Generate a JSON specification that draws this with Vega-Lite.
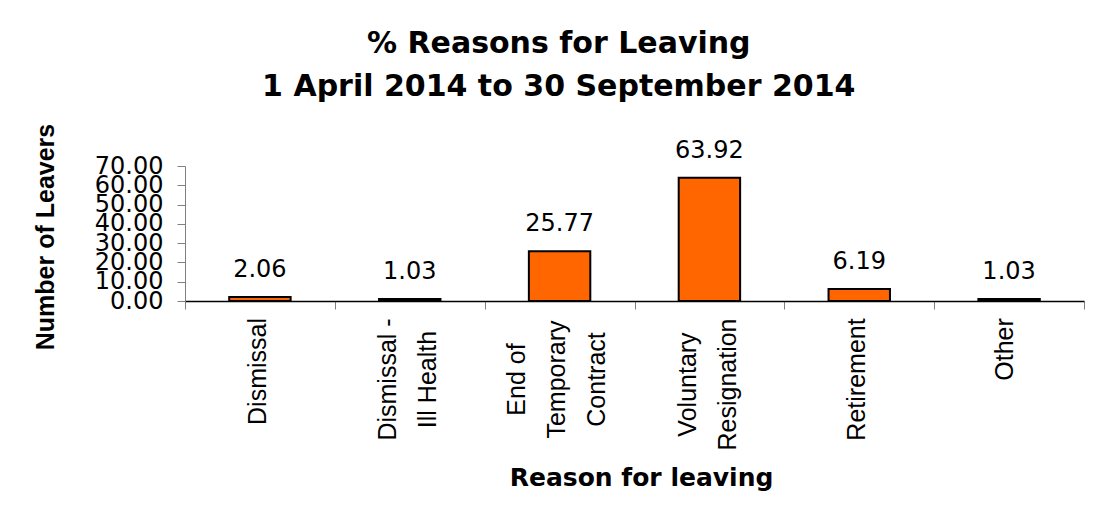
{
  "$schema": "https://vega.github.io/schema/vega-lite/v6.json",
  "autosize": {"type": "none"},
  "padding": {"left": 185, "top": 166, "right": 13, "bottom": 216},
  "width": 899,
  "height": 135,
  "background": "white",
  "title": {
    "text": ["% Reasons for Leaving", "1 April 2014 to  30 September 2014"],
    "font": "DejaVu Sans",
    "fontSize": 30,
    "fontWeight": "bold",
    "color": "#000",
    "lineHeight": 43,
    "anchor": "middle",
    "frame": "bounds",
    "baseline": "alphabetic",
    "offset": -3
  },
  "data": {
    "values": [
      {"reason": "Dismissal", "value": 2.06},
      {"reason": "Dismissal - Ill Health", "value": 1.03},
      {"reason": "End of Temporary Contract", "value": 25.77},
      {"reason": "Voluntary Resignation", "value": 63.92},
      {"reason": "Retirement", "value": 6.19},
      {"reason": "Other", "value": 1.03}
    ]
  },
  "encoding": {
    "x": {
      "field": "reason",
      "type": "nominal",
      "sort": null,
      "scale": {"paddingInner": 0, "paddingOuter": 0},
      "axis": {
        "title": "Reason for leaving",
        "titleFont": "DejaVu Sans",
        "titleFontSize": 25,
        "titleFontWeight": "bold",
        "titleColor": "#000",
        "titleBaseline": "alphabetic",
        "titleX": 456,
        "titleY": 184,
        "labelAngle": -90,
        "labelAlign": "center",
        "labelBaseline": "middle",
        "labelFont": "Liberation Sans",
        "labelFontSize": 25,
        "labelColor": "#000",
        "labelLineHeight": 40,
        "labelLimit": 400,
        "labelOverlap": false,
        "labelExpr": "datum.value == 'Dismissal - Ill Health' ? ['Dismissal -', 'Ill Health'] : datum.value == 'End of Temporary Contract' ? ['End of', 'Temporary', 'Contract'] : datum.value == 'Voluntary Resignation' ? ['Voluntary', 'Resignation'] : datum.value",
        "labelPadding": {
          "condition": [
            {"test": "datum.value == 'Other'", "value": 40},
            {"test": "datum.value == 'Dismissal'", "value": 62},
            {"test": "datum.value == 'Voluntary Resignation'", "value": 75}
          ],
          "value": 70
        },
        "labelOffset": {
          "condition": [
            {"test": "datum.value == 'Dismissal - Ill Health'", "value": -22},
            {"test": "datum.value == 'End of Temporary Contract'", "value": -43},
            {"test": "datum.value == 'Voluntary Resignation'", "value": -22},
            {"test": "datum.value == 'Dismissal'", "value": -2},
            {"test": "datum.value == 'Other'", "value": -5},
            {"test": "datum.value == 'Retirement'", "value": -3}
          ],
          "value": 0
        },
        "tickBand": "extent",
        "tickSize": 8,
        "tickColor": "#808080",
        "domainColor": "#000",
        "domainWidth": 1.5
      }
    },
    "y": {
      "field": "value",
      "type": "quantitative",
      "scale": {"domain": [0, 70]},
      "axis": {
        "title": "Number of Leavers",
        "titleFont": "Liberation Sans",
        "titleFontSize": 25,
        "titleFontWeight": "bold",
        "titleColor": "#000",
        "titleAngle": -90,
        "titleAlign": "center",
        "titleBaseline": "alphabetic",
        "titleX": -132,
        "titleY": 70.5,
        "values": [0, 10, 20, 30, 40, 50, 60, 70],
        "format": ".2f",
        "labelFont": "DejaVu Sans",
        "labelFontSize": 24,
        "labelColor": "#000",
        "labelPadding": 14,
        "labelOverlap": false,
        "labelFlush": false,
        "tickSize": 8,
        "tickColor": "#808080",
        "domainColor": "#808080",
        "grid": false
      }
    }
  },
  "layer": [
    {
      "mark": {"type": "bar", "fill": "#FF6600", "stroke": "#000", "strokeWidth": 2, "width": {"band": 0.41}}
    },
    {
      "mark": {"type": "text", "font": "DejaVu Sans", "fontSize": 24, "baseline": "alphabetic", "dy": -20, "color": "#000"},
      "encoding": {"text": {"field": "value", "type": "quantitative", "format": ".2f"}}
    }
  ],
  "config": {"view": {"stroke": null}}
}
